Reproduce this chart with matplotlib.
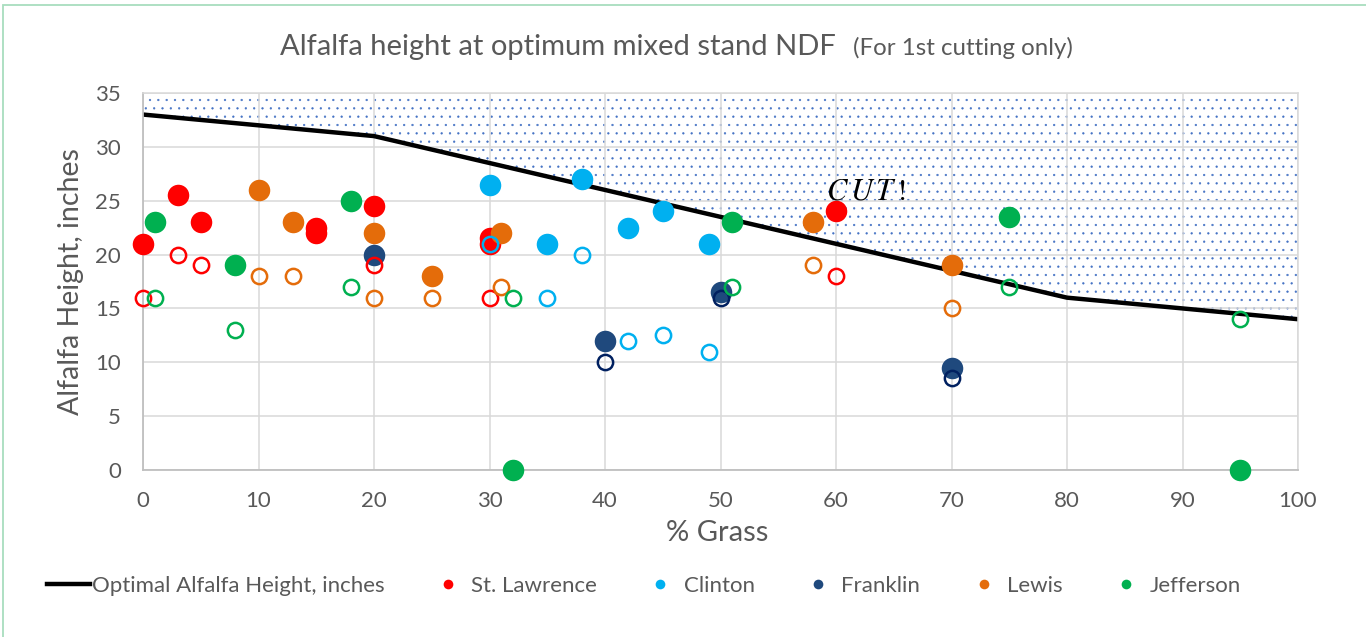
import matplotlib.pyplot as plt
from matplotlib.patches import Rectangle

plt.rcParams['font.family'] = ['Lato', 'DejaVu Sans']
plt.rcParams['mathtext.fontset'] = 'stix'
plt.rcParams['hatch.linewidth'] = 0.4

# Optimal height line (% grass vs inches)
grass_line = [0, 20, 40, 60, 80, 100]
optimal_height = [33, 31, 26, 21, 16, 14]

# Filled markers per county
stl_x = [0, 3, 5, 15, 15, 20, 30, 30, 60]
stl_y = [21, 25.5, 23, 22.5, 22, 24.5, 21.5, 21, 24]
clinton_x = [30, 35, 38, 42, 45, 49]
clinton_y = [26.5, 21, 27, 22.5, 24, 21]
franklin_x = [20, 40, 50, 70]
franklin_y = [20, 12, 16.5, 9.5]
lewis_x = [10, 13, 20, 25, 31, 58, 70]
lewis_y = [26, 23, 22, 18, 22, 23, 19]
jefferson_x = [1, 8, 18, 32, 51, 75, 95]
jefferson_y = [23, 19, 25, 0, 23, 23.5, 0]

# Open markers per county
stl_open_x = [0, 3, 5, 20, 30, 60]
stl_open_y = [16, 20, 19, 19, 16, 18]
clinton_open_x = [30, 35, 38, 42, 45, 49]
clinton_open_y = [21, 16, 20, 12, 12.5, 11]
franklin_open_x = [40, 50, 70]
franklin_open_y = [10, 16, 8.5]
lewis_open_x = [10, 13, 20, 25, 31, 58, 70]
lewis_open_y = [18, 18, 16, 16, 17, 19, 15]
jefferson_open_x = [1, 8, 18, 32, 51, 75, 95]
jefferson_open_y = [16, 13, 17, 16, 17, 17, 14]

grey = '#595959'

fig = plt.figure(figsize=(13.66, 6.37), dpi=100)
ax = fig.add_axes([143 / 1366, 167 / 637, 1155 / 1366, 377 / 637])

# dotted "cut" zone above the optimal line
ax.fill_between(grass_line, optimal_height, 35, facecolor='none',
                edgecolor='#4472C4', hatch='..', linewidth=0, zorder=0.2)

line, = ax.plot(grass_line, optimal_height, color='black', lw=3.2, zorder=2,
                label='Optimal Alfalfa Height, inches')

filled = [
    (stl_x, stl_y, '#FF0000', 'St. Lawrence'),
    (clinton_x, clinton_y, '#00B0F0', 'Clinton'),
    (franklin_x, franklin_y, '#1F497D', 'Franklin'),
    (lewis_x, lewis_y, '#E46C0A', 'Lewis'),
    (jefferson_x, jefferson_y, '#00B050', 'Jefferson'),
]
open_ = [
    (stl_open_x, stl_open_y, '#FF0000'),
    (clinton_open_x, clinton_open_y, '#00B0F0'),
    (franklin_open_x, franklin_open_y, '#002060'),
    (lewis_open_x, lewis_open_y, '#E46C0A'),
    (jefferson_open_x, jefferson_open_y, '#00B050'),
]

handles = [line]
for x, y, c, name in filled:
    h, = ax.plot(x, y, 'o', color=c, ms=15.5, mew=0, ls='none', zorder=3,
                 clip_on=False, label=name)
    handles.append(h)
for x, y, c in open_:
    ax.plot(x, y, 'o', mfc='none', mec=c, ms=11, mew=1.8, ls='none',
            zorder=4, clip_on=False)

ax.text(62.6, 25.1, r'$C\,U\,T\,!$', fontsize=22, ha='center', va='baseline',
        color='black', zorder=5)

ax.set_xlim(0, 100)
ax.set_ylim(0, 35)
ax.set_xticks(range(0, 101, 10))
ax.set_yticks(range(0, 36, 5))
ax.tick_params(length=0, labelsize=16, labelcolor=grey)
ax.tick_params(axis='y', pad=16)
ax.tick_params(axis='x', pad=15)
ax.grid(True, color='#D9D9D9', lw=1.1)
ax.set_axisbelow(True)
for s in ['left', 'bottom']:
    ax.spines[s].set_color('#BFBFBF')
    ax.spines[s].set_linewidth(1.3)
for s in ['top', 'right']:
    ax.spines[s].set_color('#D9D9D9')
    ax.spines[s].set_linewidth(1.1)

ax.set_xlabel('% Grass', fontsize=21, color=grey)
ax.set_ylabel('Alfalfa Height, inches', fontsize=20.5, color=grey)
ax.xaxis.set_label_coords(0.497, -0.133)
ax.yaxis.set_label_coords(-0.051, 0.5)

fig.text(836 / 1366, 1 - 55 / 637, 'Alfalfa height at optimum mixed stand NDF',
         fontsize=21, color=grey, ha='right', va='baseline')
fig.text(853 / 1366, 1 - 55 / 637, '(For 1st cutting only)',
         fontsize=17.3, color=grey, ha='left', va='baseline')

fig.legend(handles=handles, loc='center', bbox_to_anchor=(644 / 1366, 1 - 586 / 637),
           ncol=6, frameon=False, fontsize=16, labelcolor=grey,
           handlelength=1.9, handletextpad=0.1, columnspacing=1.9,
           markerscale=0.45)

fig.add_artist(Rectangle((3 / 1366, -0.1), 1.2, 1.1 - 5 / 637,
                         transform=fig.transFigure, fill=False,
                         edgecolor='#A8DDBE', lw=1.3))

fig.savefig('out.png', dpi=100)
